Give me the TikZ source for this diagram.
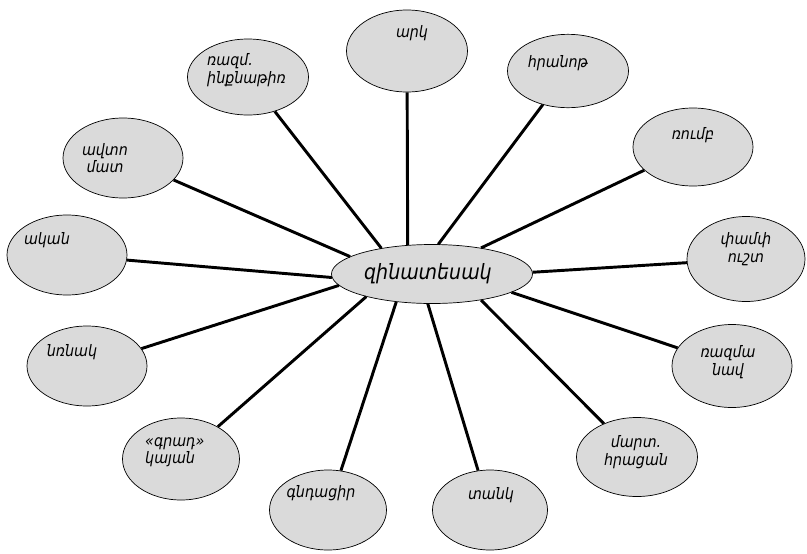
\documentclass[tikz,border=0pt]{standalone}
\usepackage{fontspec}
\setmainfont{DejaVu Sans Condensed}
\usetikzlibrary{shapes.geometric}
\definecolor{bubble}{RGB}{218,218,218}
\tikzset{
  bub/.style={ellipse, draw=black, line width=0.6pt, fill=bubble, inner sep=0pt,
    minimum width=3.6cm, minimum height=2.4cm},
  lbl/.style={font=\fontsize{13.5}{15}\selectfont\itshape, align=center, inner sep=0pt},
  link/.style={line width=2.5pt, black},
}
\begin{document}
\begin{tikzpicture}[x=0.03cm,y=-0.03cm]
\useasboundingbox (0,0) rectangle (807,553);
% central bubble
\node[bub, minimum width=6.03cm, minimum height=1.77cm] (c) at (432,274) {};
% satellites
\node[bub, minimum width=3.63cm, minimum height=2.28cm] (ink) at (248,77) {};
\node[bub, minimum width=3.63cm, minimum height=2.46cm] (ark) at (407,51) {};
\node[bub, minimum width=3.63cm, minimum height=2.2cm] (hra) at (568,71) {};
\node[bub, minimum height=2.34cm] (rum) at (693,147) {};
\node[bub, minimum width=3.54cm, minimum height=2.55cm] (pam) at (746,259) {};
\node[bub, minimum height=2.49cm] (nav) at (732,366) {};
\node[bub, minimum width=3.63cm, minimum height=2.37cm] (mar) at (637,457) {};
\node[bub, minimum width=3.45cm] (tan) at (490,510) {};
\node[bub, minimum width=3.51cm] (gnd) at (328,510) {};
\node[bub, minimum width=3.51cm, minimum height=2.46cm] (gra) at (181,459) {};
\node[bub] (nrn) at (87,366) {};
\node[bub] (aka) at (67,255) {};
\node[bub] (avt) at (123,158) {};
% connectors
\draw[link] (ink) -- (c.153);
\draw[link] (ark) -- (c.130);
\draw[link] (hra) -- (c.78);
\draw[link] (rum) -- (c.28);
\draw[link] (pam) -- (c.1);
\draw[link] (nav) -- (c.-13);
\draw[link] (mar) -- (c.-28);
\draw[link] (tan) -- (c.262);
\draw[link] (gnd) -- (c.218);
\draw[link] (gra) -- (c.199);
\draw[link] (nrn) -- (c.187);
\draw[link] (aka) -- (c.182);
\draw[link] (avt) -- (c.168);
% labels
\node[lbl, font=\fontsize{18}{20}\selectfont\itshape] (tc) at (428,274) {զինատեսակ};
\node[lbl, align=left, anchor=west] (tink) at (207,70) {ռազմ.\\ինքնաթիռ};
\node[lbl] (tark) at (412,33) {արկ};
\node[lbl] (thra) at (558,63) {հրանոթ};
\node[lbl] (trum) at (693,135) {ռումբ};
\node[lbl] (tpam) at (746,249) {փամփ\\ուշտ};
\node[lbl] (tnav) at (728,362) {ռազմա\\նավ};
\node[lbl] (tmar) at (636,452) {մարտ.\\հրացան};
\node[lbl] (ttan) at (491,495) {տանկ};
\node[lbl] (tgnd) at (321,493) {գնդացիր};
\node[lbl, align=left, anchor=west] (tgra) at (145,452) {«գրադ»\\կայան};
\node[lbl] (tnrn) at (72,352) {նռնակ};
\node[lbl] (taka) at (47,240) {ական};
\node[lbl] (tavt) at (105,158) {ավտո\\մատ};
\end{tikzpicture}
\end{document}
